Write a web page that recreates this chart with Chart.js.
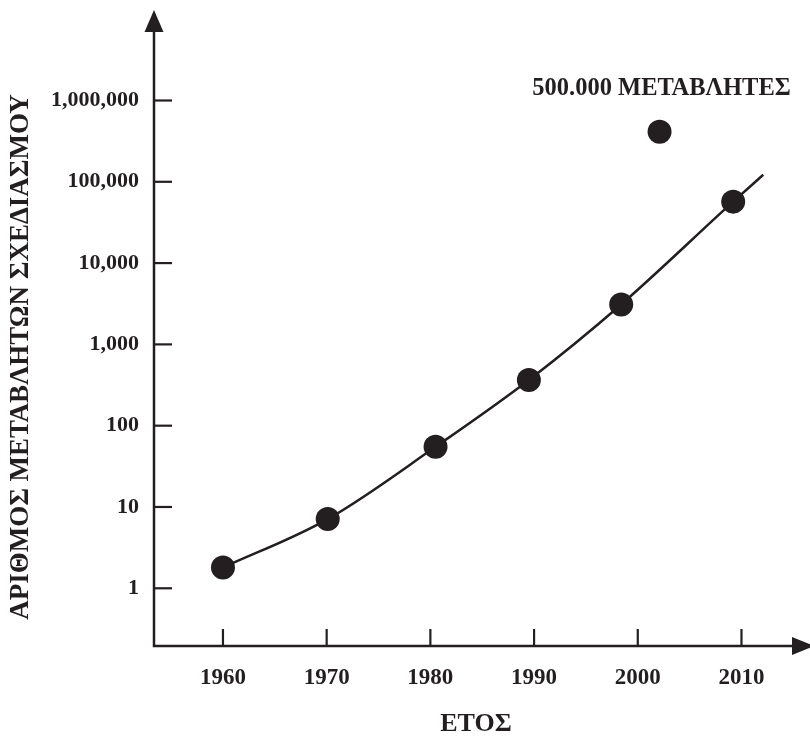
<!DOCTYPE html>
<html>
<head>
<meta charset="utf-8">
<script src="https://cdn.jsdelivr.net/npm/chart.js@4"></script>
<style>
  body { margin: 0; background: #fff; }
  #wrap { width: 810px; height: 737px; position: relative; }
</style>
</head>
<body>
<div id="wrap"><canvas id="chart"></canvas></div>
<script>
// data
const xTickYears = [1960, 1970, 1980, 1990, 2000, 2010];
const yTickValues = [1, 10, 100, 1000, 10000, 100000, 1000000];
const yTickLabels = ["1", "10", "100", "1,000", "10,000", "100,000", "1,000,000"];

const pointYears = [1960, 1970.1, 1980.5, 1989.5, 1998.4, 2002.1, 2009.2];
const pointValues = [1.8, 7.1, 55, 365, 3100, 413000, 57000];

// fitted curve
const curveYears = [1960, 1970.1, 1980.5, 1989.5, 1998.4, 2009.2, 2012.1];
const curveValues = [1.8, 7.1, 55, 365, 3100, 57000, 122000];

const noteText = "500.000 ΜΕΤΑΒΛΗΤΕΣ";
const noteIndex = 5;

const INK = "#231f20";
const FONT = "'Liberation Serif', 'Times New Roman', serif";

// axis lines with arrows + inner tick marks
const axesPlugin = {
    id: "axesPlugin",
    afterDraw(chart) {
        const ctx = chart.ctx;
        const a = chart.chartArea;
        const xs = chart.scales.x;
        const ys = chart.scales.y;
        ctx.save();
        ctx.strokeStyle = INK;
        ctx.fillStyle = INK;
        ctx.lineWidth = 2.5;
        ctx.beginPath();
        ctx.moveTo(a.left, 28);
        ctx.lineTo(a.left, a.bottom);
        ctx.lineTo(796, a.bottom);
        ctx.stroke();
        // arrow heads
        ctx.beginPath();
        ctx.moveTo(a.left, 10);
        ctx.lineTo(a.left - 9.5, 32);
        ctx.lineTo(a.left + 9.5, 32);
        ctx.closePath();
        ctx.fill();
        ctx.beginPath();
        ctx.moveTo(814, a.bottom);
        ctx.lineTo(792, a.bottom - 9);
        ctx.lineTo(792, a.bottom + 9);
        ctx.closePath();
        ctx.fill();
        // ticks
        ctx.lineWidth = 2.2;
        ys.ticks.forEach(t => {
            const py = ys.getPixelForValue(t.value);
            ctx.beginPath();
            ctx.moveTo(a.left, py);
            ctx.lineTo(a.left + 18, py);
            ctx.stroke();
        });
        xs.ticks.forEach(t => {
            const px = xs.getPixelForValue(t.value);
            ctx.beginPath();
            ctx.moveTo(px, a.bottom);
            ctx.lineTo(px, a.bottom - 17);
            ctx.stroke();
        });
        ctx.restore();
    },
    afterDatasetsDraw(chart) {
        const el = chart.getDatasetMeta(1).data[noteIndex];
        if (!el) return;
        const ctx = chart.ctx;
        ctx.save();
        ctx.fillStyle = INK;
        ctx.font = "bold 24.5px " + FONT;
        ctx.textAlign = "center";
        ctx.textBaseline = "middle";
        ctx.fillText(noteText, el.x + 2, el.y - 43);
        ctx.restore();
    }
};

const ctx = document.getElementById("chart").getContext("2d");
const chart = new Chart(ctx, {
    type: "line",
    data: {
        datasets: [
            {
                label: "curve",
                data: curveYears.map((y, i) => ({ x: y, y: curveValues[i] })),
                borderColor: INK,
                borderWidth: 2.5,
                pointRadius: 0,
                cubicInterpolationMode: "monotone",
                fill: false
            },
            {
                label: "points",
                data: pointYears.map((y, i) => ({ x: y, y: pointValues[i] })),
                showLine: false,
                pointRadius: 12,
                pointBackgroundColor: INK,
                pointBorderColor: INK,
                pointBorderWidth: 0
            }
        ]
    },
    options: {
        responsive: true,
        maintainAspectRatio: false,
        animation: false,
        layout: { padding: { top: 68, right: 10, left: 0, bottom: 0 } },
        plugins: {
            legend: { display: false },
            tooltip: { enabled: false }
        },
        scales: {
            x: {
                type: "linear",
                min: 1953.35,
                max: 2015.45,
                afterBuildTicks: s => { s.ticks = xTickYears.map(v => ({ value: v })); },
                afterFit: s => { s.height = 91; },
                grid: { display: false, drawTicks: false },
                border: { display: false },
                ticks: {
                    color: INK,
                    padding: 18,
                    maxRotation: 0,
                    font: { family: FONT, size: 23, weight: "bold" },
                    callback: v => String(v)
                },
                title: {
                    display: true,
                    text: "ΕΤΟΣ",
                    color: INK,
                    padding: { top: 0, bottom: 0 },
                    font: { family: FONT, size: 26, weight: "bold", lineHeight: 1 }
                }
            },
            y: {
                type: "logarithmic",
                min: 0.195,
                max: 2510000,
                afterBuildTicks: s => { s.ticks = yTickValues.map(v => ({ value: v })); },
                afterFit: s => { s.width = 154; },
                grid: { display: false, drawTicks: false },
                border: { display: false },
                ticks: {
                    color: INK,
                    padding: 15,
                    font: { family: FONT, size: 22, weight: "bold" },
                    callback: (v, i) => yTickLabels[i]
                },
                title: {
                    display: true,
                    text: "ΑΡΙΘΜΟΣ ΜΕΤΑΒΛΗΤΩΝ ΣΧΕΔΙΑΣΜΟΥ",
                    color: INK,
                    padding: { top: 8, bottom: 0 },
                    font: { family: FONT, size: 27, weight: "bold", lineHeight: 1 }
                }
            }
        }
    },
    plugins: [axesPlugin]
});
</script>
</body>
</html>
